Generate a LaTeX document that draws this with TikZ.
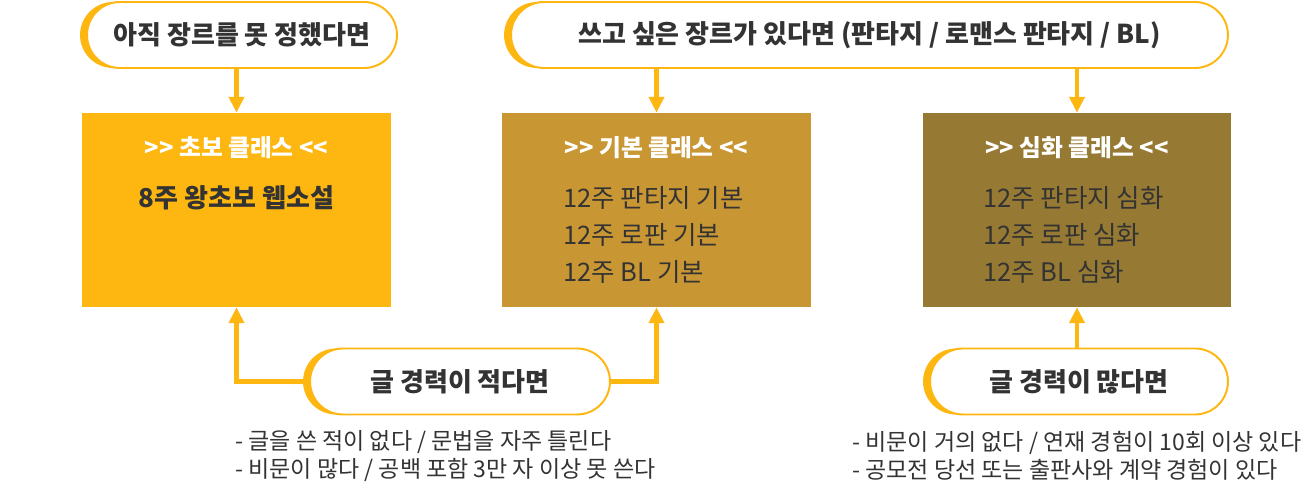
\documentclass[tikz,border=0pt]{standalone}
\usepackage{fontspec}
\setmainfont{Noto Sans CJK KR}
\usetikzlibrary{arrows.meta,shadows}
\definecolor{gold}{RGB}{254,182,16}
\definecolor{ochre}{RGB}{201,150,52}
\definecolor{olive}{RGB}{150,121,50}
\definecolor{ink}{RGB}{51,51,51}

\begin{document}
\begin{tikzpicture}[x=0.02cm,y=-0.02cm]
            \tikzset{
                pill/.style={draw=gold, line width=1.1pt, fill=white, rounded corners=0.66cm,
                    minimum height=1.32cm, inner sep=0pt, text=ink,
                    font=\fontsize{14.8}{17}\selectfont\bfseries,
                    general shadow={fill=gold, shadow xshift=-0.14cm}},
                course/.style={fill=#1, minimum width=6.18cm, minimum height=3.88cm, inner sep=0pt},
                head/.style={text=white, font=\fontsize{13.5}{16}\selectfont\bfseries},
                body/.style={text=ink, anchor=west, align=left, inner sep=0pt, font=\fontsize{14.5}{21.3}\selectfont},
                note/.style={text=ink, anchor=west, align=left, inner sep=0pt, font=\fontsize{13.1}{15.9}\selectfont},
                flow/.style={draw=gold, line width=2.5pt, -{Triangle[width=8.5pt,length=9pt]}}
            }
            \useasboundingbox (0,0) rectangle (1313,482);

            \draw node[pill, minimum width=6.2cm] (genreno) at (242,35) {아직 장르를 못 정했다면};
            \draw node[pill, minimum width=14.34cm] (genreyes) at (869.5,35) {쓰고 싶은 장르가 있다면 (판타지 / 로맨스 판타지 / BL)};

            \draw node[course=gold] (basic0) at (236.5,210) {};
            \draw node[course=ochre] (basic) at (656.5,210) {};
            \draw node[course=olive] (deep) at (1077,210) {};

            \draw node[head] (basic0t) at (236.5,148) {>{}> 초보 클래스 <{}<};
            \draw node[head] (basict) at (656.5,148) {>{}> 기본 클래스 <{}<};
            \draw node[head] (deept) at (1077,148) {>{}> 심화 클래스 <{}<};

            \draw node[body, anchor=center, font=\fontsize{14.8}{21}\selectfont\bfseries] (basic0l) at (236.5,198) {8주 왕초보 웹소설};
            \draw node[body] (basicl) at (563,235) {12주 판타지 기본\\12주 로판 기본\\12주 BL 기본};
            \draw node[body] (deepl) at (983,235) {12주 판타지 심화\\12주 로판 심화\\12주 BL 심화};

            \draw node[pill, minimum width=6cm] (fewexp) at (460,381.5) {글 경력이 적다면};
            \draw node[pill, minimum width=5.96cm] (muchexp) at (1079,381.5) {글 경력이 많다면};

            \draw node[note] (fewnote) at (235,456) {- 글을 쓴 적이 없다 / 문법을 자주 틀린다\\- 비문이 많다 / 공백 포함 3만 자 이상 못 쓴다};
            \draw node[note] (muchnote) at (852,456) {- 비문이 거의 없다 / 연재 경험이 10회 이상 있다\\- 공모전 당선 또는 출판사와 계약 경험이 있다};

            \foreach \x/\y in {%
                genreno/basic0,genreyes/basic,genreyes/deep%
            }{
                \draw[flow] (\y.north |- \x.south) -- (\y.north);
            }

            \draw[flow] (fewexp.west) -| (basic0.south);
            \draw[flow] (fewexp.east) -| (basic.south);
            \draw[flow] (deep.south |- muchexp.north) -- (deep.south);
        \end{tikzpicture}
\end{document}
